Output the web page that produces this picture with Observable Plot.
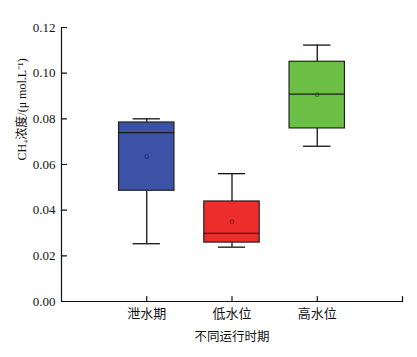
<!DOCTYPE html>
<html>
<head>
<meta charset="utf-8">
<script src="https://cdn.jsdelivr.net/npm/d3@7"></script>
<script src="https://cdn.jsdelivr.net/npm/@observablehq/plot@0.6"></script>
<style>
  html, body { margin: 0; padding: 0; background: #ffffff; }
  #chart svg { display: block; }
</style>
</head>
<body>
<div id="chart"></div>
<script>
// ---- data ----
const categories = ["泄水期", "低水位", "高水位"];
const positions = [1, 2, 3];
const whiskerMin = [0.0253, 0.0238, 0.0680];
const q1Values   = [0.0485, 0.0258, 0.0758];
const medians    = [0.0740, 0.0298, 0.0908];
const q3Values   = [0.0784, 0.0438, 0.1050];
const whiskerMax = [0.0800, 0.0560, 0.1123];
const means      = [0.0635, 0.0350, 0.0906];
const colors     = ["#3b52a6", "#ec2d2b", "#6cbf45"];
const markColors = ["#1f2f6e", "#8a1a1a", "#2f5e1c"];
const yTicks = [0, 0.02, 0.04, 0.06, 0.08, 0.10, 0.12];
const xAxisEnd = 4;
const yLabel = "CH₄浓度/(μ mol.L⁻¹)";
const xLabel = "不同运行时期";

const boxHalf = 0.325;
const capHalf = 0.16;

const rows = categories.map((c, i) => ({
  cat: c, x: positions[i], min: whiskerMin[i], q1: q1Values[i], med: medians[i],
  q3: q3Values[i], max: whiskerMax[i], mean: means[i], color: colors[i], mc: markColors[i]
}));

const tickShape = { draw(ctx, l) { ctx.moveTo(0, 0); ctx.lineTo(0, -l); } };
const serif = "'Liberation Serif', 'Times New Roman', 'Noto Sans CJK SC', serif";

const chart = Plot.plot({
  width: 417,
  height: 357,
  marginLeft: 61,
  marginRight: 15,
  marginTop: 27,
  marginBottom: 56,
  style: { fontFamily: serif, fontSize: "13px", color: "#111", background: "#ffffff" },
  x: { type: "linear", domain: [0, xAxisEnd] },
  y: { domain: [0, 0.12] },
  marks: [
    // whiskers
    Plot.ruleX(rows, { x: "x", y1: "q3", y2: "max", stroke: "#111", strokeWidth: 1.3 }),
    Plot.ruleX(rows, { x: "x", y1: "min", y2: "q1", stroke: "#111", strokeWidth: 1.3 }),
    Plot.ruleY(rows, { y: "max", x1: d => d.x - capHalf, x2: d => d.x + capHalf, stroke: "#111", strokeWidth: 1.3 }),
    Plot.ruleY(rows, { y: "min", x1: d => d.x - capHalf, x2: d => d.x + capHalf, stroke: "#111", strokeWidth: 1.3 }),
    // boxes
    Plot.rect(rows, { x1: d => d.x - boxHalf, x2: d => d.x + boxHalf, y1: "q1", y2: "q3", fill: "color", stroke: "#222", strokeWidth: 1.2 }),
    // medians
    Plot.ruleY(rows, { y: "med", x1: d => d.x - boxHalf, x2: d => d.x + boxHalf, stroke: "#1a1a1a", strokeWidth: 1.3 }),
    // means
    Plot.dot(rows, { x: "x", y: "mean", symbol: "square", r: 1.8, stroke: "mc", fill: "none", strokeWidth: 0.8 }),
    // axis lines
    Plot.ruleX([0], { stroke: "#111", strokeWidth: 1.2 }),
    Plot.ruleY([0], { stroke: "#111", strokeWidth: 1.2 }),
    // inward ticks
    Plot.vector(yTicks, { x: 0, y: d => d, length: 5, rotate: 90, anchor: "start", shape: tickShape, stroke: "#111", strokeWidth: 1.2 }),
    Plot.vector([...positions, xAxisEnd], { x: d => d, y: 0, length: 5, rotate: 0, anchor: "start", shape: tickShape, stroke: "#111", strokeWidth: 1.2 }),
    // axis labels
    Plot.axisY(yTicks, { tickSize: 0, tickPadding: 6, tickFormat: d3.format(".2f"), label: null, fontSize: 13 }),
    Plot.axisX(positions, { tickSize: 0, tickPadding: 7, tickFormat: (d, i) => categories[i], label: null, fontSize: 13, fontFamily: "'Noto Sans CJK SC', sans-serif" }),
    Plot.text([yLabel], { frameAnchor: "left", rotate: -90, dx: -39, dy: -4, fontSize: 12, fill: "#111" }),
    Plot.text([xLabel], { frameAnchor: "bottom", dy: 39, fontSize: 12.5, fill: "#111", fontFamily: "'Noto Sans CJK SC', sans-serif" })
  ]
});
document.getElementById("chart").appendChild(chart);
</script>
</body>
</html>
